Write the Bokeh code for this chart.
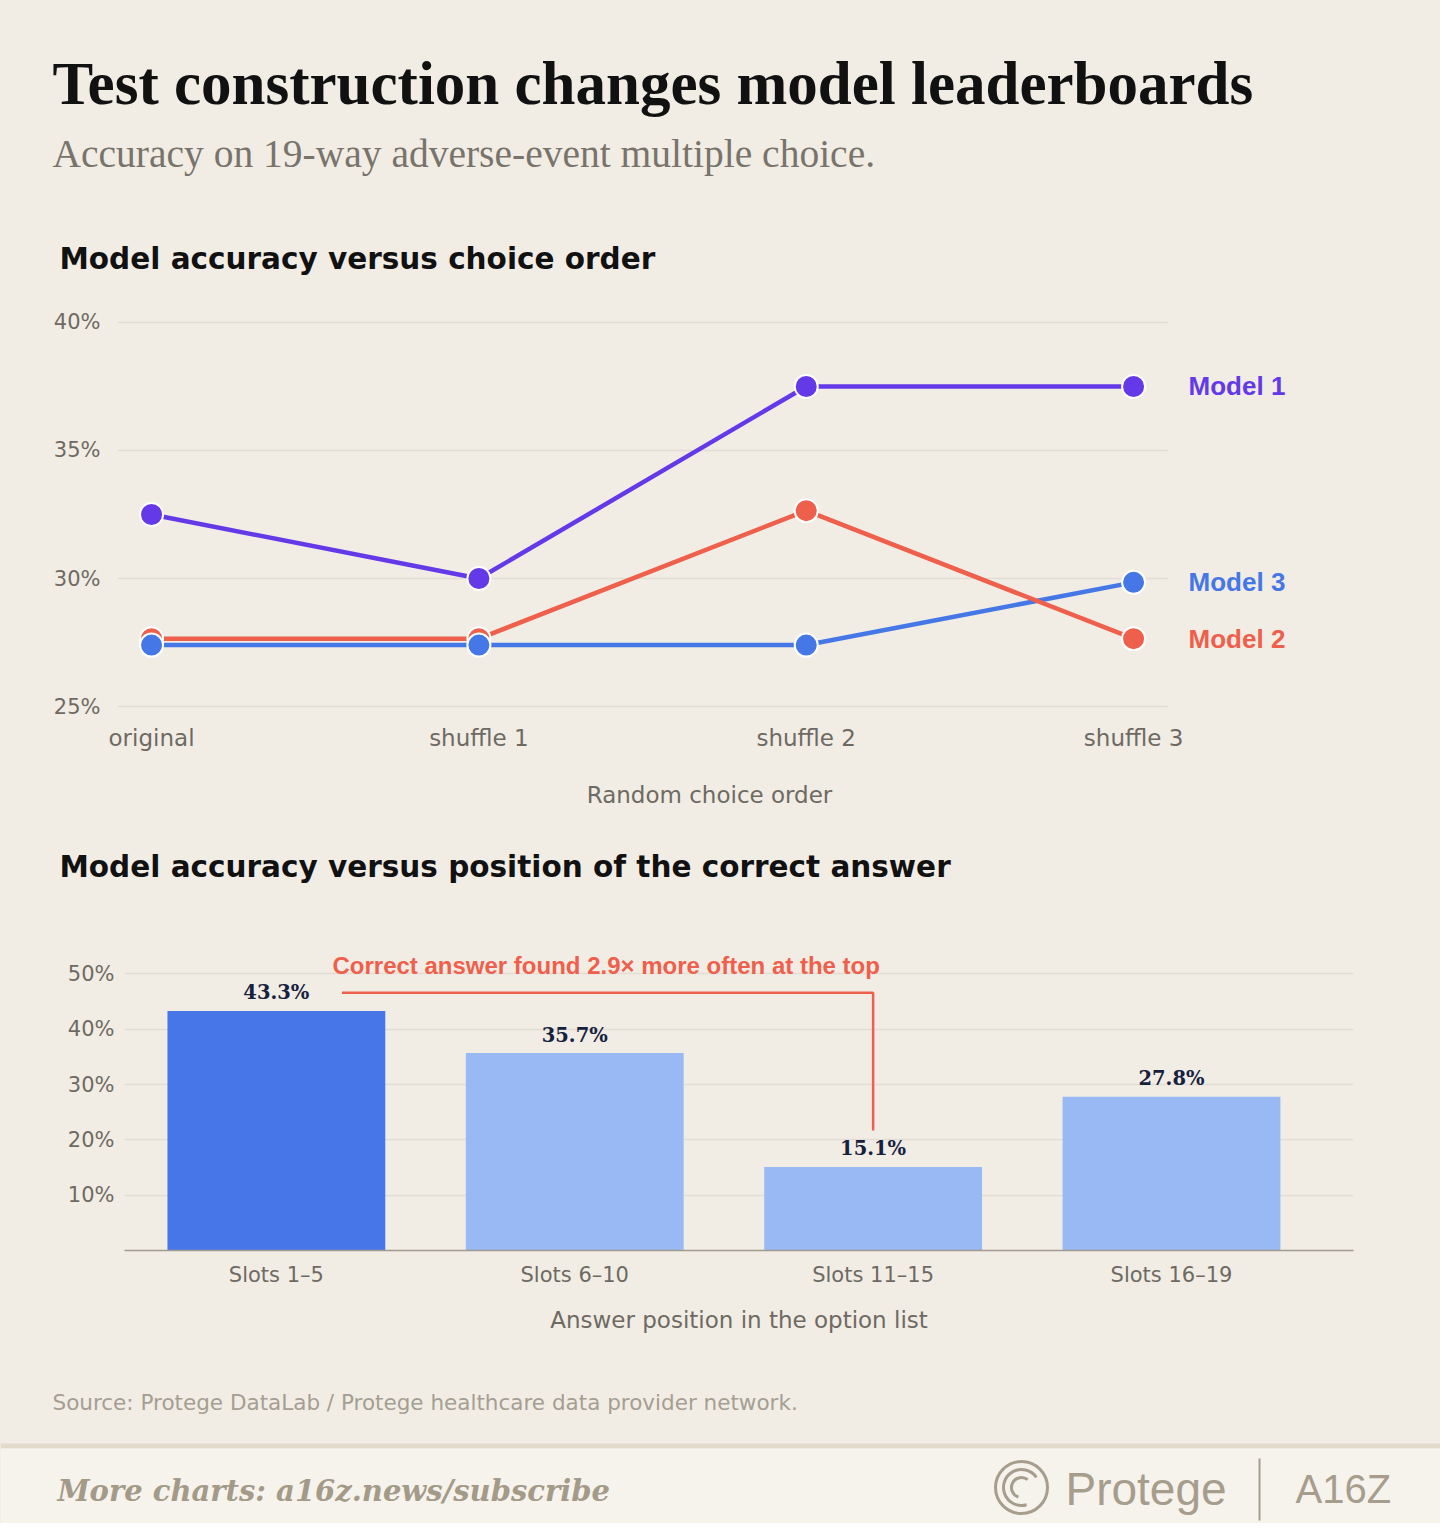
from bokeh.models import Range1d, Label, FixedTicker, PrintfTickFormatter, BoxAnnotation
from bokeh.plotting import figure
from bokeh.layouts import column
from bokeh.embed import file_html
from bokeh.resources import INLINE
from bokeh.core.properties import value

# data
orders = ["original", "shuffle 1", "shuffle 2", "shuffle 3"]
model_names = ["Model 1", "Model 2", "Model 3"]
model1 = [32.5, 30.0, 37.5, 37.5]
model2 = [27.65, 27.65, 32.65, 27.65]
model3 = [27.4, 27.4, 27.4, 29.85]
model_colors = ["#6439E8", "#EE5F4C", "#4677E6"]
line_ticks = [25, 30, 35, 40]

slots = ["Slots 1\u20135", "Slots 6\u201310", "Slots 11\u201315", "Slots 16\u201319"]
slot_acc = [43.3, 35.7, 15.1, 27.8]
slot_colors = ["#4676E8", "#98B9F3", "#98B9F3", "#98B9F3"]
bar_ticks = [10, 20, 30, 40, 50]

BG = "#F1EDE5"
GRID = "#E3DED4"
TICK = "#6E6A63"
SANS = "DejaVu Sans"
W = 1440

def text_fig(h, y0):
    # figure whose data units are the pixels of the page
    p = figure(width=W, height=h, x_range=Range1d(8, 8 + W), y_range=Range1d(y0 + h, y0),
               x_axis_type=None, y_axis_type=None, output_backend="svg",
               toolbar_location=None, tools="", min_border=0)
    p.frame_align = False
    p.outline_line_color = None
    p.background_fill_color = BG
    p.border_fill_color = BG
    return p

def style_axes(fig):
    for ax in [fig.xaxis[0], fig.yaxis[0]]:
        ax.major_tick_line_color = None
        ax.minor_tick_line_color = None
        ax.major_tick_out = 0
        ax.major_tick_in = 0
        ax.minor_tick_out = 0
        ax.major_label_text_font = SANS
        ax.major_label_text_color = TICK
        ax.axis_label_text_font = SANS
        ax.axis_label_text_font_style = "normal"
        ax.axis_label_text_color = TICK

#header
head = text_fig(292, 8)
head.add_layout(Label(x=60, y=91, text="Test construction changes model leaderboards",
                      text_font="Liberation Serif", text_font_style="bold", text_font_size="61px",
                      text_color="#111111", text_baseline="middle"))
head.add_layout(Label(x=60, y=161, text="Accuracy on 19-way adverse-event multiple choice.",
                      text_font="Liberation Serif", text_font_size="39.5px",
                      text_color="#78746C", text_baseline="middle"))
head.add_layout(Label(x=67, y=266, text="Model accuracy versus choice order",
                      text_font=SANS, text_font_style="bold", text_font_size="29.5px",
                      text_color="#111111", text_baseline="middle"))

#line chart
x_lo, x_grid_hi = -0.104, 3.104
lp = figure(width=W, height=530, x_range=Range1d(x_lo, 3.513), y_range=Range1d(24.61, 40.39),
            output_backend="svg", toolbar_location=None, tools="",
            min_border_left=117, min_border_right=139, min_border_top=20, min_border_bottom=106)
lp.frame_align = False
lp.outline_line_color = None
lp.background_fill_color = BG
lp.border_fill_color = BG
lp.grid.grid_line_color = None
lp.yaxis.ticker = FixedTicker(ticks=line_ticks)
lp.yaxis.formatter = PrintfTickFormatter(format="%d%%")
lp.xaxis.ticker = FixedTicker(ticks=list(range(len(orders))))
lp.xaxis.major_label_overrides = {i: o for i, o in enumerate(orders)}
lp.xaxis.axis_label = "Random choice order"
style_axes(lp)
lp.axis.axis_line_color = None
lp.yaxis.major_label_text_font_size = "21px"
lp.yaxis.major_label_standoff = 17
lp.xaxis.major_label_text_font_size = "23px"
lp.xaxis.major_label_standoff = 8
lp.xaxis.axis_label_text_font_size = "23px"
lp.xaxis.axis_label_standoff = 28

# gridlines stop short of the model labels
lp.segment(x0=[x_lo] * len(line_ticks), x1=[x_grid_hi] * len(line_ticks), y0=line_ticks, y1=line_ticks,
           line_color=GRID, line_width=1.5)

xs = list(range(len(orders)))
series = [model1, model2, model3]
for i in [2, 1, 0]:
    lp.line(xs, series[i], line_color=model_colors[i], line_width=4.5)
for i in [1, 2, 0]:
    lp.scatter(xs, series[i], size=23, fill_color=model_colors[i], line_color="white", line_width=2)
for i, name in enumerate(model_names):
    lp.add_layout(Label(x=xs[-1], y=series[i][-1], x_offset=55, text=name,
                        text_font="Liberation Sans", text_font_style="bold", text_font_size="26px",
                        text_color=model_colors[i], text_baseline="middle"))

#second heading
head2 = text_fig(90, 830)
head2.add_layout(Label(x=67, y=874, text="Model accuracy versus position of the correct answer",
                       text_font=SANS, text_font_style="bold", text_font_size="29.5px",
                       text_color="#111111", text_baseline="middle"))

#bar chart
bp = figure(width=W, height=440, x_range=Range1d(-0.509, 3.610), y_range=Range1d(0, 54.05),
            output_backend="svg", toolbar_location=None, tools="",
            min_border_left=124, min_border_right=87, min_border_top=39, min_border_bottom=102)
bp.frame_align = False
bp.outline_line_color = None
bp.background_fill_color = BG
bp.border_fill_color = BG
bp.xgrid.grid_line_color = None
bp.ygrid.grid_line_color = GRID
bp.ygrid.grid_line_width = 1.5
bp.yaxis.ticker = FixedTicker(ticks=bar_ticks)
bp.yaxis.formatter = PrintfTickFormatter(format="%d%%")
bp.xaxis.ticker = FixedTicker(ticks=list(range(len(slots))))
bp.xaxis.major_label_overrides = {i: s for i, s in enumerate(slots)}
bp.xaxis.axis_label = "Answer position in the option list"
style_axes(bp)
bp.yaxis.axis_line_color = None
bp.yaxis.major_label_text_font_size = "21px"
bp.yaxis.major_label_standoff = 10
bp.xaxis.axis_line_color = "#A09A8F"
bp.xaxis.axis_line_width = 1.5
bp.xaxis.major_label_text_font_size = "21px"
bp.xaxis.major_label_standoff = 12
bp.xaxis.axis_label_text_font_size = "23px"
bp.xaxis.axis_label_standoff = 17

bx = list(range(len(slots)))
bp.vbar(x=bx, top=slot_acc, width=0.73, fill_color=slot_colors, line_color=None)
bp.text(x=bx, y=slot_acc, text=["%.1f%%" % v for v in slot_acc], y_offset=-18,
        text_font=value("DejaVu Serif"), text_font_style="bold", text_font_size="19.5px",
        text_color="#16213E", text_align="center", text_baseline="middle")

# bracket from top bar over to the lowest one
lo = slot_acc.index(min(slot_acc))
bp.line([0.22, lo, lo], [46.6, 46.6, slot_acc[lo] + 6.6], line_color="#EE5F4C", line_width=2.5)
bp.add_layout(Label(x=0.188, y=51.5, text="Correct answer found 2.9\u00d7 more often at the top",
                    text_font="Liberation Sans", text_font_style="bold", text_font_size="24px",
                    text_color="#EE5F4C", text_baseline="middle"))

#footer
foot = text_fig(171, 1360)
foot.add_layout(BoxAnnotation(top=1451, bottom=1456, fill_color="#E2DACB", fill_alpha=1,
                              line_color=None, level="underlay"))
foot.add_layout(BoxAnnotation(top=1456, bottom=1531, fill_color="#F6F3ED", fill_alpha=1,
                              line_color=None, level="underlay"))
foot.add_layout(Label(x=60, y=1410, text="Source: Protege DataLab / Protege healthcare data provider network.",
                      text_font=SANS, text_font_size="21.5px", text_color="#A59E92",
                      text_baseline="middle"))
foot.add_layout(Label(x=65, y=1498, text="More charts: a16z.news/subscribe",
                      text_font="DejaVu Serif", text_font_style="bold italic", text_font_size="29px",
                      text_color="#A39A88", text_baseline="middle"))
LOGO = "#A69D8C"
foot.circle(x=[1029], y=[1495], radius=26, fill_color=None, line_color=LOGO, line_width=3)
foot.arc(x=[1029, 1029], y=[1495, 1495], radius=[18, 10], start_angle=[0.6, 0.9], end_angle=[5.0, 4.4],
         line_color=LOGO, line_width=3)
foot.add_layout(Label(x=1073, y=1496, text="Protege", text_font="Liberation Sans",
                      text_font_size="46px", text_color=LOGO, text_baseline="middle"))
foot.segment(x0=[1267], y0=[1466], x1=[1267], y1=[1528], line_color=LOGO, line_width=2)
foot.add_layout(Label(x=1303, y=1496, text="A16Z", text_font="Liberation Sans",
                      text_font_size="40px", text_color=LOGO, text_baseline="middle"))

p = column(head, lp, head2, bp, foot, spacing=0)
p.styles = {"background-color": BG}

open("out.html", "w").write(file_html(p, INLINE))
